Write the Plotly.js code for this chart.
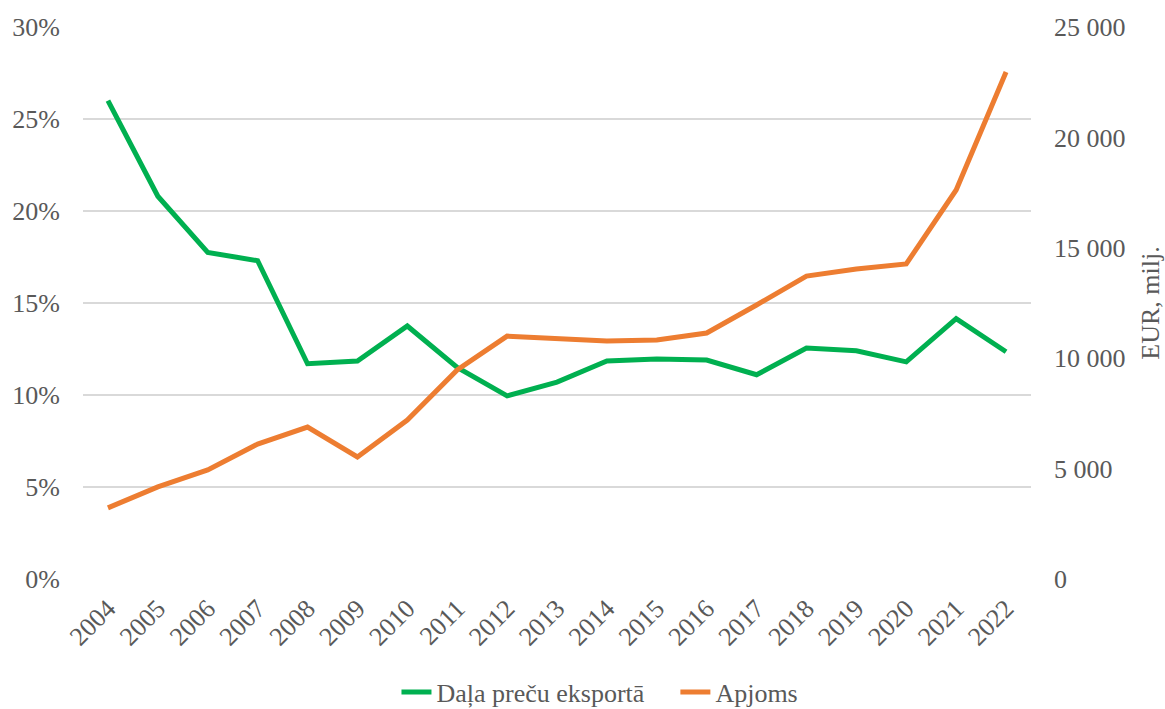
<!DOCTYPE html>
<html><head><meta charset="utf-8">
<script src="https://cdn.plot.ly/plotly-3.0.1.min.js"></script>
<style>html,body{margin:0;padding:0;background:#fff}#chart{width:1165px;height:709px}</style>
</head><body><div id="chart"></div>
<script>
const years = ['2004','2005','2006','2007','2008','2009','2010','2011','2012','2013','2014','2015','2016','2017','2018','2019','2020','2021','2022'];
const shareExport = [26.0,20.8,17.75,17.3,11.7,11.85,13.75,11.5,9.95,10.7,11.85,11.95,11.9,11.1,12.55,12.4,11.8,14.15,12.35];
const volume = [3220,4170,4940,6110,6880,5530,7200,9470,11000,10910,10780,10820,11140,12410,13720,14040,14270,17620,22960];
const leftTicks = [0,5,10,15,20,25,30];
const rightTicks = [0,5000,10000,15000,20000,25000];
const rightTickText = ['0','5 000','10 000','15 000','20 000','25 000'];

const FAM = 'Liberation Serif';
const mk = (s) => ({family:FAM, size:s, color:'#595959'});
const data = [
 {x:years, y:shareExport, type:'scatter', mode:'lines', name:'Daļa preču eksportā\u00a0\u00a0\u00a0\u00a0',
  line:{color:'#00b050', width:5}, yaxis:'y'},
 {x:years, y:volume, type:'scatter', mode:'lines', name:'Apjoms',
  line:{color:'#ed7d31', width:5}, yaxis:'y2'}
];
const layout = {
 width:1165, height:709,
 margin:{l:83, r:134, t:27, b:130},
 paper_bgcolor:'#fff', plot_bgcolor:'#fff',
 font:mk(26),
 showlegend:true,
 legend:{orientation:'h', xref:'container', x:0.515, xanchor:'center', yref:'container', y:0.024, yanchor:'middle', font:mk(26), traceorder:'normal'},
 xaxis:{type:'category', tickangle:-45, showgrid:false, zeroline:false, showline:false, ticks:'', tickfont:mk(26), range:[-0.5,18.5], automargin:false, ticklabelstandoff:8},
 yaxis:{range:[0,30], tickvals:leftTicks, ticktext:leftTicks.map(v=>v+'%'), showgrid:true, gridcolor:'#d9d9d9', gridwidth:1.5, zeroline:false, showline:false, ticks:'', tickfont:mk(26), automargin:false, ticklabelstandoff:22},
 yaxis2:{range:[0,25000], overlaying:'y', side:'right', tickvals:rightTicks, ticktext:rightTickText, showgrid:false, zeroline:false, showline:false, ticks:'', tickfont:mk(26), automargin:false, ticklabelstandoff:22,
  title:{text:'EUR, milj.', font:mk(26), standoff:16}}
};
Plotly.newPlot('chart', data, layout, {displayModeBar:false, staticPlot:true});
</script></body></html>
